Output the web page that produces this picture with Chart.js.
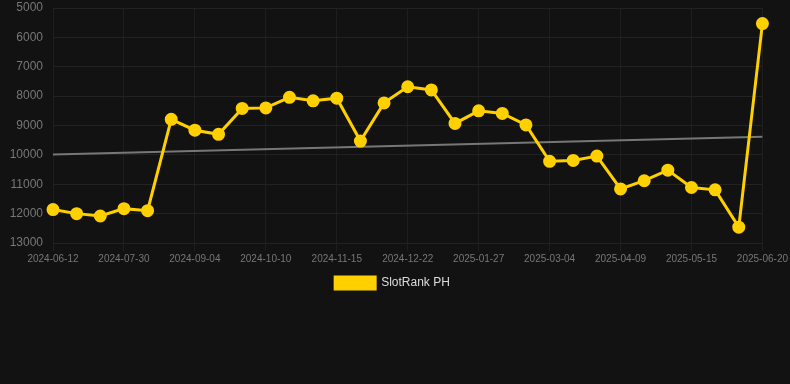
<!DOCTYPE html>
<html>
<head>
<meta charset="utf-8">
<script src="https://cdn.jsdelivr.net/npm/chart.js@4"></script>
<style>
html,body{margin:0;padding:0;background:#121212;overflow:hidden;}
#wrap{width:790px;height:384px;}
</style>
</head>
<body>
<div id="wrap"><canvas id="c" width="790" height="384"></canvas></div>
<script>
const dates = ["2024-06-12","2024-06-28","2024-07-14","2024-07-30","2024-08-11","2024-08-23","2024-09-04","2024-09-16","2024-09-28","2024-10-10","2024-10-22","2024-11-03","2024-11-15","2024-11-27","2024-12-10","2024-12-22","2025-01-03","2025-01-15","2025-01-27","2025-02-08","2025-02-20","2025-03-04","2025-03-16","2025-03-28","2025-04-09","2025-04-21","2025-05-03","2025-05-15","2025-05-27","2025-06-08","2025-06-20"];
const rankPH = [11862,12000,12080,11830,11900,8790,9160,9300,8420,8400,8040,8160,8070,9530,8230,7680,7790,8930,8500,8590,8980,10220,10190,10040,11160,10880,10520,11110,11190,12460,5530];
const trendStart = 9985;
const trendEnd = 9380;
const yTicks = [5000,6000,7000,8000,9000,10000,11000,12000,13000];

const trend = dates.map((d,i)=> i===0 ? trendStart : (i===dates.length-1 ? trendEnd : null));

const FONT = "'Liberation Sans', Arial, Helvetica, sans-serif";
new Chart(document.getElementById('c'), {
  type: 'line',
  data: {
    labels: dates,
    datasets: [
      {
        label: 'SlotRank PH',
        data: rankPH,
        borderColor: '#FFD000',
        backgroundColor: '#FFD000',
        borderWidth: 3,
        pointRadius: 5,
        pointBackgroundColor: '#FFD000',
        pointBorderColor: '#FFD000',
        tension: 0
      },
      {
        label: 'trend',
        data: trend,
        borderColor: '#777777',
        backgroundColor: '#777777',
        borderWidth: 2,
        pointRadius: 0,
        spanGaps: true
      }
    ]
  },
  options: {
    responsive: false,
    animation: false,
    layout: { padding: { left: 0, right: 5, top: 0, bottom: 85 } },
    plugins: {
      legend: {
        position: 'bottom',
        labels: {
          filter: (item) => item.text === 'SlotRank PH',
          boxWidth: 40,
          boxHeight: 12,
          color: '#dddddd',
          font: { family: FONT, size: 12 }
        }
      },
      tooltip: { enabled: false }
    },
    scales: {
      x: {
        grid: { color: '#1e1e1e', tickLength: 8 },
        border: { color: '#222222' },
        ticks: {
          autoSkip: false,
          maxRotation: 0,
          padding: 2,
          color: '#777777',
          font: { family: FONT, size: 10 },
          callback: function(v, i) { return i % 3 === 0 ? dates[i] : null; }
        }
      },
      y: {
        reverse: true,
        min: 5000,
        max: 13000,
        afterBuildTicks: (axis) => { axis.ticks = yTicks.map(v => ({ value: v })); },
        afterFit: (axis) => { axis.width = 53; axis.paddingTop = 6; },
        grid: { color: '#222222', drawTicks: true, tickLength: 10, tickColor: 'rgba(0,0,0,0)' },
        border: { display: false },
        ticks: {
          color: '#777777',
          padding: 0,
          font: { family: FONT, size: 12, lineHeight: 1 },
          callback: (v) => String(v)
        }
      }
    }
  }
});
</script>
</body>
</html>
